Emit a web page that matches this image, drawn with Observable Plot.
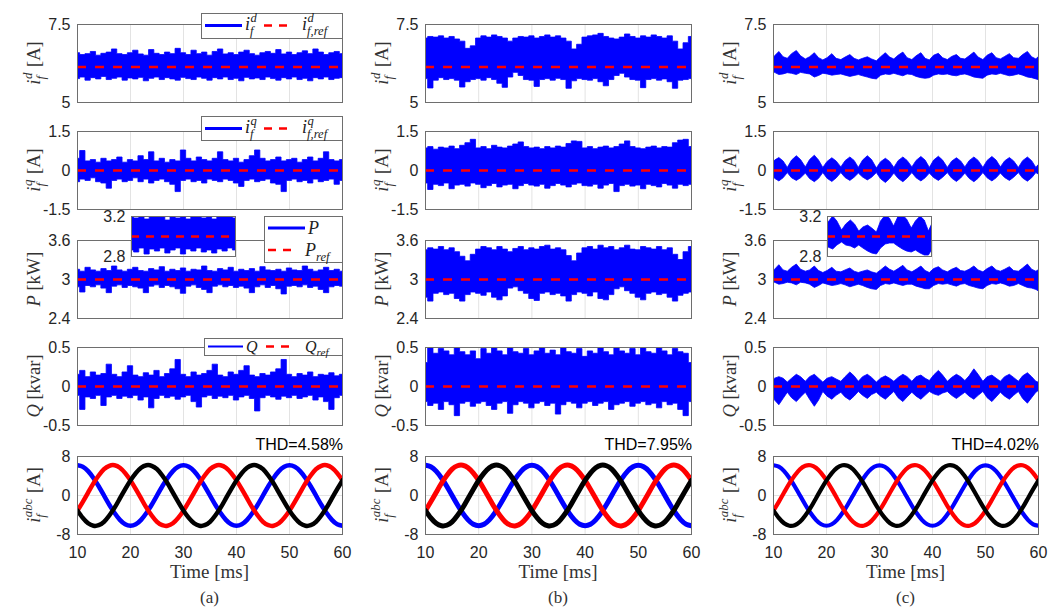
<!DOCTYPE html>
<html><head><meta charset="utf-8">
<script src="https://cdn.jsdelivr.net/npm/d3@7"></script>
<script src="https://cdn.jsdelivr.net/npm/@observablehq/plot@0.6"></script>
<style>
body{margin:0;background:#fff;}
#root{position:relative;width:1051px;height:610px;overflow:hidden;background:#fff;}
</style></head><body><div id="root"></div>
<script>
// ---------- data ----------
const time = [10,11,12,13,14,15,16,17,18,19,20,21,22,23,24,25,26,27,28,29,30,31,32,33,34,35,36,37,38,39,40,41,42,43,44,45,46,47,48,49,50,51,52,53,54,55,56,57,58,59,60];
const xTicks = [10,20,30,40,50,60];
const gridTimes = [20,30,40,50];
const refs = {id: 6.14, iq: 0, p: 3.0, q: 0};
const thdLabels = ["THD=4.58%", "THD=7.95%", "THD=4.02%"];
const colLetters = ["(a)", "(b)", "(c)"];

// three-phase currents (A)
const phaseA = [6.2,5.9,5.0,3.6,1.9,0,-1.9,-3.6,-5.0,-5.9,-6.2,-5.9,-5.0,-3.6,-1.9,0,1.9,3.6,5.0,5.9,6.2,5.9,5.0,3.6,1.9,0,-1.9,-3.6,-5.0,-5.9,-6.2,-5.9,-5.0,-3.6,-1.9,0,1.9,3.6,5.0,5.9,6.2,5.9,5.0,3.6,1.9,0,-1.9,-3.6,-5.0,-5.9,-6.2];
const phaseB = [-3.1,-1.3,0.6,2.5,4.1,5.4,6.1,6.2,5.7,4.6,3.1,1.3,-0.6,-2.5,-4.1,-5.4,-6.1,-6.2,-5.7,-4.6,-3.1,-1.3,0.6,2.5,4.1,5.4,6.1,6.2,5.7,4.6,3.1,1.3,-0.6,-2.5,-4.1,-5.4,-6.1,-6.2,-5.7,-4.6,-3.1,-1.3,0.6,2.5,4.1,5.4,6.1,6.2,5.7,4.6,3.1];
const phaseC = [-3.1,-4.6,-5.7,-6.2,-6.1,-5.4,-4.1,-2.5,-0.6,1.3,3.1,4.6,5.7,6.2,6.1,5.4,4.1,2.5,0.6,-1.3,-3.1,-4.6,-5.7,-6.2,-6.1,-5.4,-4.1,-2.5,-0.6,1.3,3.1,4.6,5.7,6.2,6.1,5.4,4.1,2.5,0.6,-1.3,-3.1,-4.6,-5.7,-6.2,-6.1,-5.4,-4.1,-2.5,-0.6,1.3,3.1];

// column (a): envelopes of the noisy signals
const idHiA = [6.58,6.52,6.55,6.62,6.50,6.56,6.60,6.70,6.55,6.52,6.58,6.66,6.54,6.50,6.68,6.56,6.52,6.60,6.55,6.72,6.58,6.52,6.66,6.55,6.60,6.50,6.62,6.70,6.54,6.58,6.52,6.60,6.66,6.55,6.50,6.58,6.62,6.56,6.68,6.54,6.60,6.52,6.58,6.64,6.55,6.70,6.60,6.52,6.58,6.62,6.55];
const idLoA = [5.75,5.80,5.70,5.78,5.74,5.82,5.72,5.76,5.80,5.70,5.77,5.74,5.79,5.68,5.76,5.80,5.72,5.78,5.74,5.70,5.79,5.75,5.72,5.80,5.76,5.70,5.78,5.74,5.80,5.72,5.76,5.68,5.79,5.74,5.77,5.72,5.80,5.75,5.70,5.78,5.74,5.80,5.72,5.76,5.68,5.78,5.74,5.80,5.72,5.76,5.78];
const iqHiA = [0.45,0.75,0.35,0.40,0.30,0.45,0.35,0.40,0.50,0.30,0.40,0.35,0.55,0.40,0.70,0.35,0.45,0.30,0.40,0.35,0.77,0.45,0.35,0.50,0.40,0.35,0.45,0.70,0.40,0.35,0.45,0.30,0.40,0.55,0.77,0.45,0.35,0.40,0.50,0.35,0.40,0.45,0.30,0.40,0.50,0.35,0.45,0.70,0.40,0.35,0.40];
const iqLoA = [-0.45,-0.35,-0.40,-0.30,-0.45,-0.50,-0.70,-0.40,-0.35,-0.45,-0.40,-0.30,-0.45,-0.35,-0.50,-0.40,-0.35,-0.45,-0.55,-0.83,-0.40,-0.35,-0.45,-0.40,-0.50,-0.35,-0.40,-0.45,-0.35,-0.40,-0.50,-0.63,-0.40,-0.35,-0.45,-0.40,-0.35,-0.50,-0.55,-0.83,-0.40,-0.35,-0.45,-0.40,-0.50,-0.35,-0.45,-0.40,-0.35,-0.55,-0.40];
const pHiA = [3.15,3.12,3.18,3.14,3.12,3.16,3.13,3.20,3.14,3.12,3.15,3.18,3.13,3.12,3.16,3.14,3.19,3.12,3.15,3.13,3.17,3.12,3.15,3.14,3.20,3.13,3.12,3.16,3.14,3.18,3.12,3.15,3.13,3.16,3.12,3.19,3.14,3.13,3.15,3.12,3.17,3.14,3.13,3.20,3.15,3.12,3.14,3.18,3.13,3.15,3.12];
const pLoA = [2.88,2.80,2.90,2.88,2.91,2.86,2.79,2.89,2.91,2.87,2.90,2.88,2.86,2.79,2.89,2.91,2.87,2.90,2.88,2.85,2.78,2.89,2.91,2.87,2.84,2.79,2.89,2.91,2.88,2.90,2.87,2.89,2.86,2.79,2.88,2.91,2.87,2.90,2.85,2.77,2.89,2.90,2.88,2.91,2.87,2.89,2.84,2.79,2.88,2.90,2.89];
const qHiA = [0.15,0.20,0.12,0.18,0.14,0.16,0.28,0.15,0.12,0.18,0.26,0.14,0.12,0.17,0.14,0.20,0.12,0.16,0.22,0.34,0.15,0.12,0.18,0.14,0.16,0.20,0.28,0.14,0.12,0.18,0.15,0.20,0.26,0.14,0.12,0.16,0.14,0.18,0.22,0.34,0.15,0.12,0.16,0.14,0.18,0.12,0.15,0.14,0.17,0.13,0.15];
const qLoA = [-0.12,-0.30,-0.14,-0.16,-0.12,-0.25,-0.14,-0.12,-0.16,-0.13,-0.15,-0.12,-0.18,-0.14,-0.28,-0.16,-0.12,-0.15,-0.13,-0.17,-0.14,-0.12,-0.20,-0.27,-0.14,-0.12,-0.16,-0.13,-0.15,-0.12,-0.18,-0.14,-0.12,-0.16,-0.32,-0.15,-0.12,-0.14,-0.17,-0.13,-0.15,-0.12,-0.16,-0.14,-0.12,-0.18,-0.14,-0.20,-0.30,-0.15,-0.12];

// column (b)
const idHiB = [7.05,7.10,7.08,7.12,7.05,7.10,7.02,6.95,6.72,6.80,7.05,7.12,7.08,7.15,7.10,7.05,6.95,7.05,7.10,7.08,7.12,7.05,7.10,7.15,7.08,7.12,7.05,6.95,6.70,6.85,7.08,7.12,7.15,7.20,7.10,7.05,7.02,7.08,7.18,7.10,7.05,7.12,7.08,7.15,7.10,7.05,7.12,6.95,6.70,6.90,7.10];
const idLoB = [5.75,5.45,5.70,5.78,5.72,5.75,5.70,5.48,5.65,5.72,5.75,5.70,5.78,5.72,5.60,5.47,5.80,5.95,5.85,5.72,5.70,5.50,5.72,5.75,5.70,5.76,5.72,5.44,5.68,5.75,5.72,5.70,5.75,5.65,5.52,5.72,5.85,5.92,5.80,5.72,5.70,5.46,5.72,5.75,5.70,5.74,5.65,5.44,5.70,5.72,5.75];
const iqHiB = [0.85,0.90,0.80,0.88,0.85,0.92,0.82,0.95,1.05,1.18,0.85,0.90,0.82,0.95,0.88,0.85,0.92,1.00,1.08,0.90,0.85,0.88,0.82,0.90,0.85,0.92,0.88,1.02,1.12,1.10,0.85,0.90,0.82,0.88,0.92,0.85,0.90,1.00,1.12,0.90,0.85,0.82,0.88,0.92,0.85,0.90,0.88,1.05,1.15,1.18,0.90];
const iqLoB = [-0.50,-0.75,-0.55,-0.60,-0.50,-0.72,-0.58,-0.55,-0.62,-0.50,-0.55,-0.68,-0.60,-0.52,-0.65,-0.58,-0.55,-0.72,-0.60,-0.52,-0.58,-0.62,-0.55,-0.70,-0.60,-0.52,-0.58,-0.65,-0.55,-0.50,-0.60,-0.62,-0.55,-0.70,-0.58,-0.52,-0.83,-0.60,-0.55,-0.62,-0.58,-0.72,-0.55,-0.60,-0.65,-0.52,-0.58,-0.70,-0.55,-0.60,-0.55];
const pHiB = [3.45,3.48,3.46,3.50,3.45,3.48,3.42,3.35,3.28,3.38,3.46,3.50,3.48,3.45,3.50,3.46,3.42,3.47,3.50,3.45,3.48,3.46,3.50,3.52,3.46,3.48,3.45,3.36,3.28,3.40,3.48,3.50,3.46,3.52,3.48,3.50,3.45,3.48,3.52,3.46,3.45,3.50,3.48,3.46,3.50,3.45,3.48,3.38,3.30,3.42,3.50];
const pLoB = [2.72,2.66,2.78,2.80,2.76,2.78,2.70,2.66,2.76,2.80,2.78,2.75,2.80,2.72,2.68,2.74,2.86,2.88,2.82,2.78,2.70,2.67,2.78,2.80,2.76,2.78,2.74,2.66,2.76,2.80,2.78,2.74,2.80,2.70,2.68,2.76,2.85,2.88,2.82,2.78,2.72,2.68,2.78,2.80,2.76,2.78,2.72,2.66,2.75,2.78,2.80];
const qHiB = [0.30,0.50,0.42,0.48,0.45,0.40,0.50,0.44,0.40,0.45,0.35,0.48,0.42,0.50,0.45,0.40,0.50,0.44,0.42,0.48,0.40,0.45,0.50,0.42,0.46,0.40,0.50,0.44,0.42,0.48,0.38,0.45,0.42,0.50,0.44,0.40,0.50,0.45,0.42,0.48,0.40,0.50,0.44,0.42,0.50,0.45,0.40,0.48,0.44,0.42,0.30];
const qLoB = [-0.20,-0.25,-0.22,-0.30,-0.20,-0.24,-0.38,-0.22,-0.20,-0.26,-0.22,-0.20,-0.25,-0.30,-0.22,-0.20,-0.35,-0.24,-0.20,-0.22,-0.28,-0.22,-0.20,-0.25,-0.22,-0.36,-0.24,-0.20,-0.22,-0.28,-0.22,-0.20,-0.25,-0.22,-0.20,-0.30,-0.24,-0.22,-0.20,-0.26,-0.22,-0.20,-0.24,-0.22,-0.28,-0.20,-0.24,-0.22,-0.30,-0.38,-0.20];

// column (c): sampled at the 300 Hz ripple (pinch / rise / lobe / fall)
const timeC = [10,10.3,11.1,11.9,12.7,13.5,14.4,15.2,16.1,16.9,17.8,18.6,19.4,20.2,21.1,21.9,22.8,23.6,24.5,25.3,26.1,26.9,27.8,28.6,29.5,30.3,31.2,32.0,32.8,33.6,34.5,35.3,36.2,37.0,37.9,38.7,39.5,40.3,41.2,42.0,42.9,43.7,44.6,45.4,46.2,47.0,47.9,48.7,49.6,50.4,51.3,52.1,52.9,53.7,54.6,55.4,56.3,57.1,58.0,58.8,59.6,60];
const idHiC = [6.42,6.48,6.62,6.45,6.40,6.55,6.65,6.48,6.38,6.45,6.58,6.42,6.35,6.42,6.55,6.40,6.36,6.44,6.52,6.40,6.35,6.40,6.45,6.38,6.32,6.45,6.58,6.44,6.38,6.50,6.60,6.42,6.36,6.48,6.58,6.40,6.35,6.50,6.56,6.42,6.36,6.46,6.52,6.40,6.38,6.48,6.60,6.44,6.36,6.50,6.58,6.42,6.38,6.46,6.55,6.42,6.40,6.52,6.62,6.45,6.38,6.45];
const idLoC = [5.92,5.95,5.88,5.90,5.94,5.92,5.88,5.95,5.92,5.90,5.80,5.85,5.92,5.90,5.86,5.88,5.90,5.86,5.82,5.85,5.88,5.84,5.80,5.76,5.74,5.86,5.90,5.88,5.92,5.88,5.84,5.90,5.88,5.82,5.78,5.76,5.78,5.86,5.90,5.88,5.90,5.86,5.84,5.88,5.90,5.86,5.80,5.78,5.76,5.86,5.90,5.88,5.92,5.88,5.84,5.86,5.90,5.86,5.80,5.78,5.74,5.72];
const iqHiC = [0.30,0.38,0.48,0.35,0.10,0.38,0.55,0.40,0.12,0.40,0.57,0.38,0.10,0.33,0.47,0.35,0.12,0.36,0.50,0.37,0.10,0.38,0.55,0.40,0.08,0.32,0.45,0.33,0.10,0.36,0.50,0.37,0.12,0.37,0.52,0.38,0.10,0.38,0.53,0.38,0.10,0.34,0.47,0.35,0.12,0.36,0.50,0.37,0.10,0.37,0.52,0.38,0.12,0.35,0.48,0.35,0.10,0.36,0.50,0.36,0.10,0.20];
const iqLoC = [-0.25,-0.32,-0.42,-0.30,-0.10,-0.30,-0.40,-0.30,-0.12,-0.33,-0.45,-0.32,-0.10,-0.32,-0.44,-0.31,-0.10,-0.29,-0.40,-0.28,-0.12,-0.27,-0.38,-0.28,-0.10,-0.34,-0.48,-0.33,-0.12,-0.32,-0.45,-0.31,-0.10,-0.30,-0.42,-0.30,-0.12,-0.29,-0.40,-0.28,-0.10,-0.31,-0.44,-0.31,-0.12,-0.32,-0.45,-0.32,-0.10,-0.30,-0.42,-0.30,-0.12,-0.29,-0.40,-0.28,-0.10,-0.31,-0.43,-0.30,-0.10,-0.15];
const pHiC = [3.12,3.15,3.22,3.14,3.12,3.18,3.23,3.15,3.12,3.14,3.20,3.13,3.10,3.13,3.18,3.12,3.11,3.14,3.17,3.12,3.10,3.12,3.14,3.11,3.09,3.14,3.20,3.15,3.12,3.16,3.21,3.14,3.11,3.15,3.20,3.13,3.10,3.16,3.19,3.14,3.11,3.15,3.18,3.13,3.12,3.15,3.20,3.14,3.11,3.16,3.20,3.14,3.12,3.15,3.19,3.13,3.12,3.17,3.23,3.15,3.12,3.14];
const pLoC = [2.94,2.95,2.92,2.93,2.95,2.94,2.91,2.95,2.94,2.92,2.87,2.90,2.94,2.92,2.90,2.91,2.93,2.91,2.88,2.90,2.92,2.90,2.87,2.85,2.84,2.90,2.93,2.92,2.94,2.92,2.90,2.92,2.92,2.89,2.87,2.85,2.85,2.90,2.93,2.92,2.93,2.91,2.89,2.92,2.93,2.90,2.88,2.86,2.85,2.90,2.93,2.92,2.94,2.92,2.89,2.90,2.93,2.90,2.87,2.86,2.84,2.82];
const qHiC = [0.08,0.10,0.12,0.10,0.05,0.10,0.15,0.12,0.06,0.12,0.15,0.10,0.05,0.10,0.12,0.09,0.06,0.12,0.18,0.13,0.06,0.12,0.15,0.11,0.05,0.10,0.13,0.10,0.06,0.11,0.15,0.12,0.06,0.12,0.14,0.10,0.07,0.14,0.20,0.14,0.06,0.11,0.15,0.12,0.07,0.13,0.22,0.15,0.06,0.12,0.14,0.10,0.06,0.12,0.15,0.11,0.06,0.13,0.17,0.12,0.06,0.05];
const qLoC = [-0.12,-0.18,-0.24,-0.16,-0.08,-0.15,-0.20,-0.14,-0.08,-0.17,-0.26,-0.18,-0.07,-0.13,-0.17,-0.12,-0.08,-0.14,-0.18,-0.13,-0.07,-0.12,-0.16,-0.11,-0.08,-0.13,-0.17,-0.12,-0.07,-0.15,-0.20,-0.14,-0.08,-0.13,-0.17,-0.12,-0.07,-0.10,-0.12,-0.09,-0.07,-0.12,-0.16,-0.12,-0.08,-0.13,-0.17,-0.12,-0.07,-0.15,-0.20,-0.14,-0.08,-0.13,-0.17,-0.12,-0.07,-0.16,-0.22,-0.15,-0.08,-0.06];

// zoomed insets of P (20-40 ms)
const insetTimeA = [20,21,22,23,24,25,26,27,28,29,30,31,32,33,34,35,36,37,38,39,40];
const insetHiA = [3.20,3.18,3.22,3.17,3.20,3.19,3.22,3.16,3.20,3.18,3.21,3.17,3.22,3.19,3.18,3.21,3.17,3.22,3.19,3.20,3.18];
const insetLoA = [2.86,2.84,2.88,2.82,2.87,2.85,2.88,2.83,2.86,2.88,2.82,2.87,2.85,2.88,2.84,2.86,2.83,2.87,2.85,2.88,2.86];
const insetTimeC = [19.4,20.2,21.1,21.9,22.8,23.6,24.5,25.3,26.1,26.9,27.8,28.6,29.5,30.3,31.2,32.0,32.8,33.6,34.5,35.3,36.2,37.0,37.9,38.7,39.5,40.3];
const insetHiC = [3.06,3.14,3.20,3.15,3.06,3.12,3.16,3.12,3.05,3.09,3.11,3.08,3.04,3.15,3.21,3.18,3.10,3.19,3.21,3.17,3.08,3.15,3.20,3.16,3.05,3.14];
const insetLoC = [2.92,2.89,2.87,2.91,2.94,2.91,2.90,2.88,2.91,2.88,2.85,2.83,2.82,2.88,2.92,2.93,2.93,2.90,2.87,2.85,2.84,2.86,2.83,2.81,2.81,2.88];

// ---------- layout ----------
const BLUE = "#0000ff", RED = "#ff0000", GRID = "#e3e3e3", FRAME = "#6e6e6e";
const cols = [{x: 77, w: 265}, {x: 425, w: 266}, {x: 773, w: 265}];
const rows = [{y: 24, h: 78}, {y: 131, h: 78}, {y: 240, h: 78}, {y: 347, h: 78}, {y: 456, h: 78}];
const root = document.getElementById("root");
const fmt = d => String(d);
const SANS = '"Liberation Sans", Arial, sans-serif';
const sansStyle = {fontFamily: SANS, fontSize: "16px", color: "#262626", background: "transparent", overflow: "visible"};

function place(svg, left, top) {
  svg.style.position = "absolute";
  svg.style.left = left + "px";
  svg.style.top = top + "px";
  root.appendChild(svg);
}

function panel(ci, ri, yDomain, yTicks, marks) {
  const c = cols[ci], r = rows[ri], bottom = ri === 4;
  const ml = 50, mr = 6, mt = 10, mb = bottom ? 32 : 10;
  const chart = Plot.plot({
    width: c.w + ml + mr, height: r.h + mt + mb,
    marginLeft: ml, marginRight: mr, marginTop: mt, marginBottom: mb,
    x: bottom ? {domain: [10, 60], ticks: xTicks, tickSize: 0, tickPadding: 12, label: null, tickFormat: fmt}
              : {domain: [10, 60], axis: null},
    y: {domain: yDomain, ticks: yTicks, tickSize: 0, tickPadding: 7, label: null, tickFormat: fmt},
    style: sansStyle,
    marks: [
      Plot.ruleX(gridTimes, {stroke: GRID}),
      Plot.ruleY(yTicks, {stroke: GRID}),
      ...marks,
      Plot.frame({stroke: FRAME})
    ]
  });
  place(chart, c.x - ml, r.y - mt);
}

function band(t, lo, hi, curve) {
  return Plot.areaY(t, {x: t, y1: lo, y2: hi, fill: BLUE, stroke: BLUE, strokeWidth: 0.8, curve, clip: true});
}
function refLine(v) {
  return Plot.ruleY([v], {stroke: RED, strokeWidth: 2.5, strokeDasharray: "9,9"});
}
function phases(sw) {
  return [
    Plot.line(time, {x: time, y: phaseA, stroke: BLUE, strokeWidth: sw, curve: "natural", clip: true}),
    Plot.line(time, {x: time, y: phaseB, stroke: RED, strokeWidth: sw, curve: "natural", clip: true}),
    Plot.line(time, {x: time, y: phaseC, stroke: "#000", strokeWidth: sw, curve: "natural", clip: true})
  ];
}

const sets = [
  {t: time, id: [idLoA, idHiA], iq: [iqLoA, iqHiA], p: [pLoA, pHiA], q: [qLoA, qHiA], sw: 4.5, curve: "step"},
  {t: time, id: [idLoB, idHiB], iq: [iqLoB, iqHiB], p: [pLoB, pHiB], q: [qLoB, qHiB], sw: 5, curve: "step"},
  {t: timeC, id: [idLoC, idHiC], iq: [iqLoC, iqHiC], p: [pLoC, pHiC], q: [qLoC, qHiC], sw: 4.2, curve: "linear"}
];

sets.forEach((s, ci) => {
  panel(ci, 0, [5, 7.5], [5, 7.5], [band(s.t, ...s.id, s.curve), refLine(refs.id)]);
  panel(ci, 1, [-1.5, 1.5], [-1.5, 0, 1.5], [band(s.t, ...s.iq, s.curve), refLine(refs.iq)]);
  panel(ci, 2, [2.4, 3.6], [2.4, 3, 3.6], [band(s.t, ...s.p, s.curve), refLine(refs.p)]);
  panel(ci, 3, [-0.5, 0.5], [-0.5, 0, 0.5], [band(s.t, ...s.q, s.curve), refLine(refs.q)]);
  panel(ci, 4, [-8, 8], [-8, 0, 8], phases(s.sw));
});

// insets
function inset(left, t, lo, hi, curve) {
  const ml = 40, mr = 4, mt = 10, mb = 10, w = 104, h = 40;
  const chart = Plot.plot({
    width: w + ml + mr, height: h + mt + mb,
    marginLeft: ml, marginRight: mr, marginTop: mt, marginBottom: mb,
    x: {domain: [20, 40], axis: null},
    y: {domain: [2.8, 3.2], ticks: [2.8, 3.2], tickSize: 0, tickPadding: 6, label: null, tickFormat: fmt},
    style: sansStyle,
    marks: [
      Plot.frame({fill: "white"}),
      Plot.ruleX([30], {stroke: GRID}),
      Plot.areaY(t, {x: t, y1: lo, y2: hi, fill: BLUE, stroke: BLUE, strokeWidth: 0.8, curve, clip: true}),
      Plot.ruleY([refs.p], {stroke: RED, strokeWidth: 2.5, strokeDasharray: "8,7"}),
      Plot.frame({stroke: FRAME})
    ]
  });
  place(chart, left - ml, 216 - mt);
}
inset(131, insetTimeA, insetLoA, insetHiA, "step");
inset(827, insetTimeC, insetLoC, insetHiC, "linear");

// ---------- overlay text: axis titles, legends ----------
const NS = "http://www.w3.org/2000/svg";
const ov = document.createElementNS(NS, "svg");
ov.setAttribute("width", 1051); ov.setAttribute("height", 610);
ov.style.position = "absolute"; ov.style.left = "0"; ov.style.top = "0";
root.appendChild(ov);
function mk(tag, attrs, parent) {
  const e = document.createElementNS(NS, tag);
  for (const k in attrs) e.setAttribute(k, attrs[k]);
  (parent || ov).appendChild(e);
  return e;
}
const SERIF = '"Liberation Serif", "DejaVu Serif", serif';
function txt(parent, x, y, s, size, italic, fill) {
  const e = mk("text", {x, y, "font-size": size, "font-family": SERIF, "font-style": italic ? "italic" : "normal", fill}, parent);
  e.textContent = s;
  return e;
}
function mathText(parent, x, y, segs, size, fill) {
  let cx = x;
  for (const s of segs) {
    if (s.t !== undefined) {
      cx += txt(parent, cx, y, s.t, size, s.it, fill).getComputedTextLength();
    } else {
      let w = 0;
      if (s.sup) w = Math.max(w, txt(parent, cx + 0.5, y - size * 0.42, s.sup, size * 0.7, true, fill).getComputedTextLength());
      if (s.sub) w = Math.max(w, txt(parent, cx, y + size * 0.28, s.sub, size * 0.7, true, fill).getComputedTextLength());
      cx += w + size * 0.08;
    }
  }
  return cx - x;
}

const yLabels = [
  [{t: "i", it: 1}, {sup: "d", sub: "f"}, {t: "\u00a0[A]"}],
  [{t: "i", it: 1}, {sup: "q", sub: "f"}, {t: "\u00a0[A]"}],
  [{t: "P", it: 1}, {t: "\u00a0[kW]"}],
  [{t: "Q", it: 1}, {t: "\u00a0[kvar]"}],
  [{t: "i", it: 1}, {sup: "abc", sub: "f"}, {t: "\u00a0[A]"}]
];
cols.forEach((c, ci) => {
  rows.forEach((r, ri) => {
    const g = mk("g", {});
    const w = mathText(g, 0, 0, yLabels[ri], 18.5, "#333");
    g.setAttribute("transform", `translate(${c.x - 37},${r.y + r.h / 2}) rotate(-90) translate(${-w / 2},0)`);
  });
  const cx = c.x + c.w / 2;
  const tl = txt(ov, cx, 578, "Time [ms]", 19, false, "#333"); tl.setAttribute("text-anchor", "middle");
  const lt = txt(ov, cx, 603, colLetters[ci], 17, false, "#333"); lt.setAttribute("text-anchor", "middle");
  const th = mk("text", {x: c.x + c.w + 1, y: 450, "font-size": 16, "font-family": SANS, "text-anchor": "end", fill: "#000"});
  th.textContent = thdLabels[ci];
});

// legends (column a)
function box(x1, y1, x2, y2) { mk("rect", {x: x1 + 0.5, y: y1 + 0.5, width: x2 - x1, height: y2 - y1, fill: "white", stroke: FRAME}); }
function sample(x1, x2, y, color, dashed, sw) {
  const a = {x1, x2, y1: y, y2: y, stroke: color, "stroke-width": sw};
  if (dashed) a["stroke-dasharray"] = "8,7";
  mk("line", a);
}
// i_f^d
box(201, 13, 342, 38);
sample(205, 242, 25.5, BLUE, false, 3);
mathText(ov, 245, 30, [{t: "i", it: 1}, {sup: "d", sub: "f"}], 18, "#222");
sample(264, 292, 25.5, RED, true, 2.5);
mathText(ov, 302, 30, [{t: "i", it: 1}, {sup: "d", sub: "f,ref"}], 18, "#222");
// i_f^q
box(201, 116, 342, 140);
sample(205, 242, 128.5, BLUE, false, 3);
mathText(ov, 245, 133, [{t: "i", it: 1}, {sup: "q", sub: "f"}], 18, "#222");
sample(264, 292, 128.5, RED, true, 2.5);
mathText(ov, 302, 133, [{t: "i", it: 1}, {sup: "q", sub: "f,ref"}], 18, "#222");
// P
box(264, 216, 342, 262);
sample(268, 305, 228, BLUE, false, 3);
mathText(ov, 308, 234, [{t: "P", it: 1}], 18, "#222");
sample(268, 296, 250, RED, true, 2.5);
mathText(ov, 305, 256, [{t: "P", it: 1}, {sub: "ref"}], 18, "#222");
// Q
box(204, 338, 342, 355);
sample(208, 243, 346.5, BLUE, false, 2);
mathText(ov, 246, 352, [{t: "Q", it: 1}], 16, "#222");
sample(266, 292, 346.5, RED, true, 2.5);
mathText(ov, 305, 352, [{t: "Q", it: 1}, {sub: "ref"}], 16, "#222");
</script>
</body></html>
